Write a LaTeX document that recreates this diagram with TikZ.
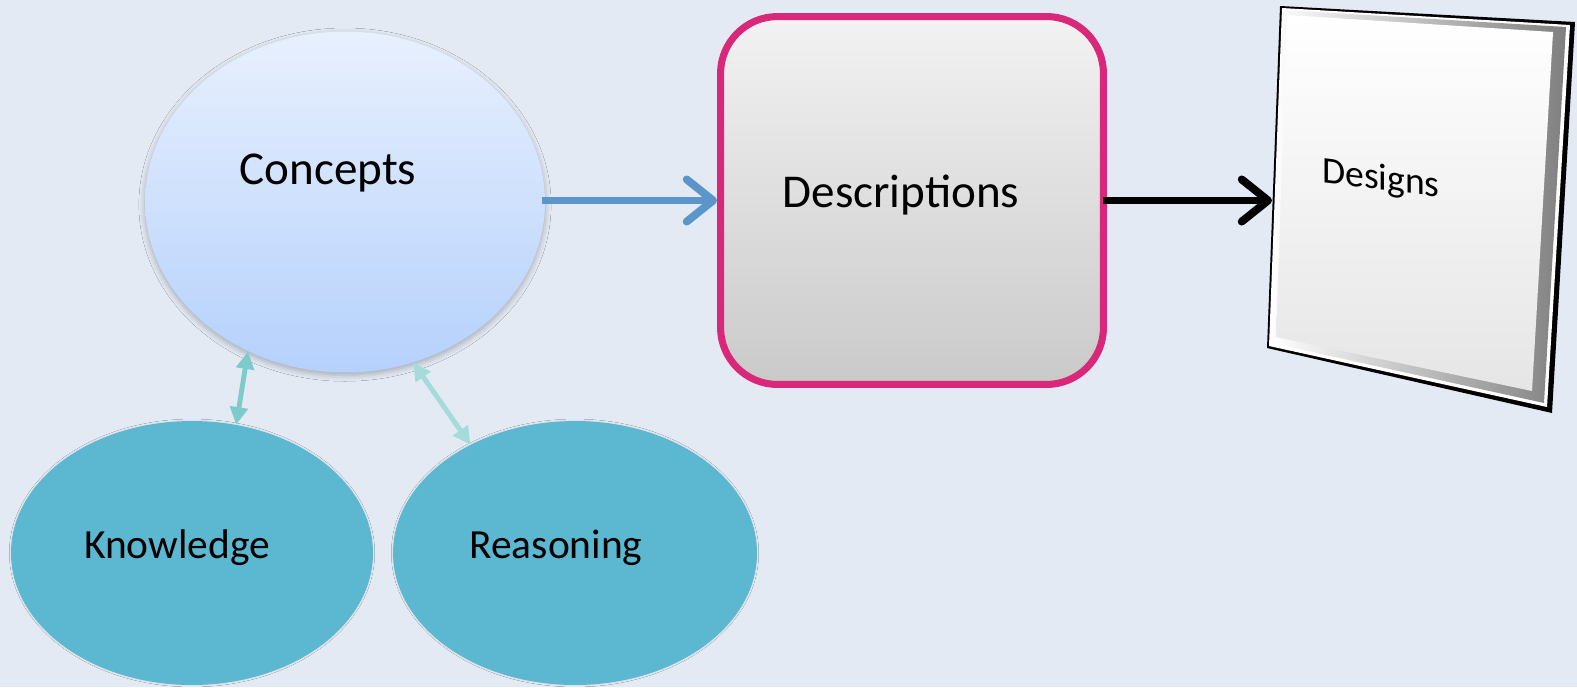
\documentclass[tikz,border=0pt]{standalone}
\usepackage{fontspec}
\setmainfont{Carlito}
\usetikzlibrary{shapes.geometric,arrows.meta,shadows.blur}

\definecolor{bgblue}{RGB}{227,234,244}
\definecolor{concepttop}{RGB}{232,240,253}
\definecolor{conceptbot}{RGB}{181,209,252}
\definecolor{ballteal}{RGB}{91,184,208}
\definecolor{borderpink}{RGB}{217,40,122}
\definecolor{arrowblue}{RGB}{91,150,202}
\definecolor{linkteal}{RGB}{126,203,204}
\definecolor{linkpale}{RGB}{166,219,220}

\tikzset{
    bubble/.style={ellipse, inner sep=0pt},
    bigtext/.style={font=\fontsize{26.8}{32}\selectfont, anchor=base},
    midtext/.style={font=\fontsize{23.6}{28}\selectfont, anchor=base},
    descbox/.style={rectangle, rounded corners=1.14cm, draw=borderpink, line width=4pt,
        top color=black!5, bottom color=black!21},
    flowarrow/.style={line width=4.5pt, -{Straight Barb[length=15pt,width=24pt,round]}},
    linkarrow/.style={line width=2.8pt, {Triangle[length=10pt,width=10pt]}-{Triangle[length=10pt,width=10pt]}}
}

\begin{document}
\begin{tikzpicture}[x=0.02cm,y=-0.02cm]
    \fill[bgblue] (0,0) rectangle (1577,687);
    \useasboundingbox (0,0) rectangle (1577,687);

    % Concepts
    \node[bubble, minimum width=8cm, minimum height=6.82cm, top color=concepttop, bottom color=conceptbot,
        blur shadow={shadow xshift=0pt, shadow yshift=-1.5pt, shadow blur radius=3.5pt, shadow opacity=28}] (concepts) at (345,202) {};
    \node[bigtext] (conceptstxt) at (328,184) {Concepts};

    % Knowledge and Reasoning
    \node[bubble, minimum width=7.24cm, minimum height=5.28cm, fill=ballteal,
        blur shadow={shadow xshift=0pt, shadow yshift=0pt, shadow scale=0.995, shadow blur radius=1.5pt, shadow opacity=15}] (knowledge) at (192,553) {};
    \node[midtext] (knowledgetxt) at (177,558) {Knowledge};
    \node[bubble, minimum width=7.28cm, minimum height=5.28cm, fill=ballteal,
        blur shadow={shadow xshift=0pt, shadow yshift=0pt, shadow scale=0.995, shadow blur radius=1.5pt, shadow opacity=15}] (reasoning) at (575,553) {};
    \node[midtext] (reasoningtxt) at (556,558) {Reasoning};

    \draw[linkarrow, linkteal] (concepts.237) -- (knowledge.71);
    \draw[linkarrow, linkpale] (concepts.293) -- (reasoning.134);

    % Descriptions
    \node[descbox, minimum width=7.66cm, minimum height=7.36cm] (desc) at (912,200.5) {};
    \node[bigtext] (desctxt) at (901,207) {Descriptions};

    % Designs
    \coordinate (dtl) at (1280,6);
    \coordinate (dtr) at (1575,22);
    \coordinate (dbr) at (1552,413);
    \coordinate (dbl) at (1267,348);
    \fill[black] (dtl) -- (dtr) -- (dbr) -- (dbl) -- cycle;
    \fill[white] (1282,8) -- (1570,25) -- (1547,407) -- (1269,346) -- cycle;
    \shade[left color=white, right color=black!50] (1283,10) -- (1566,27) -- (1544,403) -- (1271,343) -- cycle;
    \shade[top color=white, bottom color=black!10] (1287,15) -- (1553,32) -- (1532,391) -- (1276,337) -- cycle;
    \node[font=\fontsize{21.4}{26}\selectfont, yslant=-0.125] (designs) at (1381,180) {Designs};
    \coordinate (dsin) at (1272,200.5);

    % arrows
    \draw[flowarrow, arrowblue, shorten <=-2pt] (concepts.east |- desc.west) -- (desc.west);
    \draw[flowarrow, black, shorten <=-2pt] (desc.east) -- (dsin);
\end{tikzpicture}
\end{document}
